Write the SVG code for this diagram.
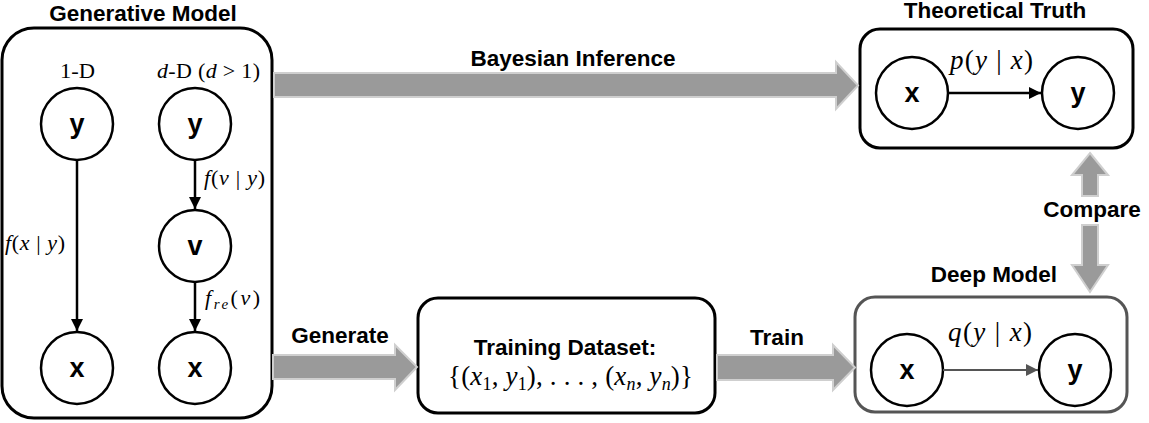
<svg xmlns="http://www.w3.org/2000/svg" width="1149" height="423" viewBox="0 0 1149 423">
<style>
.box{fill:#fff;stroke:#000;stroke-width:3}
.gbox{fill:#fff;stroke:#555;stroke-width:3}
.node{fill:#fff;stroke:#000;stroke-width:2.5}
.nl{font-family:"Liberation Sans",Arial,sans-serif;font-weight:bold;font-size:27px;text-anchor:middle}
.title{font-family:"Liberation Sans",Arial,sans-serif;font-weight:bold;font-size:22.5px;text-anchor:middle}
.math{font-family:"Liberation Serif","Times New Roman",serif;font-size:22px}
.mbig{font-size:27px}
.it{font-style:italic}
.sub{font-size:18px}
.big{fill:#9a9a9a;stroke:#cfcfcf;stroke-width:2}
.edge{stroke:#000;stroke-width:2.5;fill:none}
.gedge{stroke:#555;stroke-width:2;fill:none}
</style>
<defs>
<marker id="ah" viewBox="0 0 10 10" refX="10" refY="5" markerWidth="5" markerHeight="5" orient="auto" markerUnits="strokeWidth">
<path d="M0,0 L10,5 L0,10 z" fill="#000"/>
</marker>
<marker id="ahg" viewBox="0 0 10 10" refX="10" refY="5" markerWidth="6.5" markerHeight="6" orient="auto" markerUnits="strokeWidth">
<path d="M0,0 L10,5 L0,10 z" fill="#555"/>
</marker>
</defs>

<g id="generative-model">
<rect class="box" x="2" y="28" width="270" height="390" rx="32"/>
<text class="title" x="143" y="21">Generative Model</text>
<text class="math" x="60" y="78" textLength="35" lengthAdjust="spacingAndGlyphs">1-D</text>
<text class="math" x="157" y="78" textLength="103" lengthAdjust="spacing"><tspan class="it">d</tspan>-D (<tspan class="it">d</tspan> &gt; 1)</text>
</g>
<g id="gm-y1"><circle class="node" cx="77" cy="124" r="36"/><text class="nl" x="77" y="133">y</text></g>
<g id="gm-x1"><circle class="node" cx="77" cy="368" r="36"/><text class="nl" x="77" y="377">x</text></g>
<g id="gm-y2"><circle class="node" cx="195" cy="124" r="36"/><text class="nl" x="195" y="133">y</text></g>
<g id="gm-v"><circle class="node" cx="195" cy="246" r="36"/><text class="nl" x="195" y="255">v</text></g>
<g id="gm-x2"><circle class="node" cx="195" cy="368" r="36"/><text class="nl" x="195" y="377">x</text></g>

<g id="theoretical-truth">
<rect class="box" x="860" y="29" width="273" height="119" rx="20"/>
<text class="title" x="995" y="18">Theoretical Truth</text>
</g>
<g id="tt-x"><circle class="node" cx="912" cy="93" r="36"/><text class="nl" x="912" y="102">x</text></g>
<g id="tt-y"><circle class="node" cx="1078" cy="93" r="36"/><text class="nl" x="1078" y="102">y</text></g>

<g id="deep-model">
<rect class="gbox" x="855" y="297" width="272" height="115" rx="20"/>
<text class="title" x="994" y="282">Deep Model</text>
</g>
<g id="dm-x"><circle class="node" cx="907" cy="370" r="36"/><text class="nl" x="907" y="379">x</text></g>
<g id="dm-y"><circle class="node" cx="1075" cy="370" r="36"/><text class="nl" x="1075" y="379">y</text></g>

<g id="training-dataset">
<rect class="box" x="418" y="298" width="297" height="115" rx="20"/>
<text class="title" x="565" y="355">Training Dataset:</text>
<text class="math mbig" x="448" y="385" textLength="245" lengthAdjust="spacing">{(<tspan class="it">x</tspan><tspan class="sub" dy="5">1</tspan><tspan dy="-5">, </tspan><tspan class="it">y</tspan><tspan class="sub" dy="5">1</tspan><tspan dy="-5">), . . . , (</tspan><tspan class="it">x</tspan><tspan class="sub it" dy="5">n</tspan><tspan dy="-5">, </tspan><tspan class="it">y</tspan><tspan class="sub it" dy="5">n</tspan><tspan dy="-5">)}</tspan></text>
</g>

<g id="connectors">
<line class="edge" x1="77" y1="160" x2="77" y2="331" marker-end="url(#ah)"/>
<line class="edge" x1="195" y1="160" x2="195" y2="209" marker-end="url(#ah)"/>
<line class="edge" x1="195" y1="282" x2="195" y2="331" marker-end="url(#ah)"/>
<line class="edge" x1="948" y1="93" x2="1041" y2="93" marker-end="url(#ah)"/>
<line class="gedge" x1="943" y1="370" x2="1038" y2="370" marker-end="url(#ahg)"/>
<text class="math" x="5" y="250" textLength="60" lengthAdjust="spacing"><tspan class="it">f</tspan>(<tspan class="it">x</tspan> | <tspan class="it">y</tspan>)</text>
<text class="math" x="204" y="185" textLength="61" lengthAdjust="spacing"><tspan class="it">f</tspan>(<tspan class="it">v</tspan> | <tspan class="it">y</tspan>)</text>
<text class="math" x="205" y="305" textLength="55" lengthAdjust="spacing"><tspan class="it">f</tspan><tspan class="it" style="font-size:15px" dy="4">re</tspan><tspan dy="-4">(</tspan><tspan class="it">v</tspan>)</text>
<text class="math mbig" x="950" y="69" textLength="83" lengthAdjust="spacing"><tspan class="it">p</tspan>(<tspan class="it">y</tspan> | <tspan class="it">x</tspan>)</text>
<text class="math mbig" x="948" y="341" textLength="84" lengthAdjust="spacing"><tspan class="it">q</tspan>(<tspan class="it">y</tspan> | <tspan class="it">x</tspan>)</text>

<polygon class="big" points="274,73 836,73 836,62 858,85.5 836,109 836,97 274,97"/>
<text class="title" x="573" y="66">Bayesian Inference</text>
<polygon class="big" points="273,355 395,355 395,345 417,367 395,390 395,379 273,379"/>
<text class="title" x="340" y="343">Generate</text>
<polygon class="big" points="717,355 833,355 833,345 855,367.5 833,390 833,380 717,380"/>
<text class="title" x="777" y="345">Train</text>
<polygon class="big" points="1090,153 1108,175 1098,175 1098,196 1082,196 1082,175 1072,175"/>
<polygon class="big" points="1082,225 1098,225 1098,265 1108,265 1090,292 1072,265 1082,265"/>
<text class="title" x="1092" y="217">Compare</text>
</g>
</svg>
